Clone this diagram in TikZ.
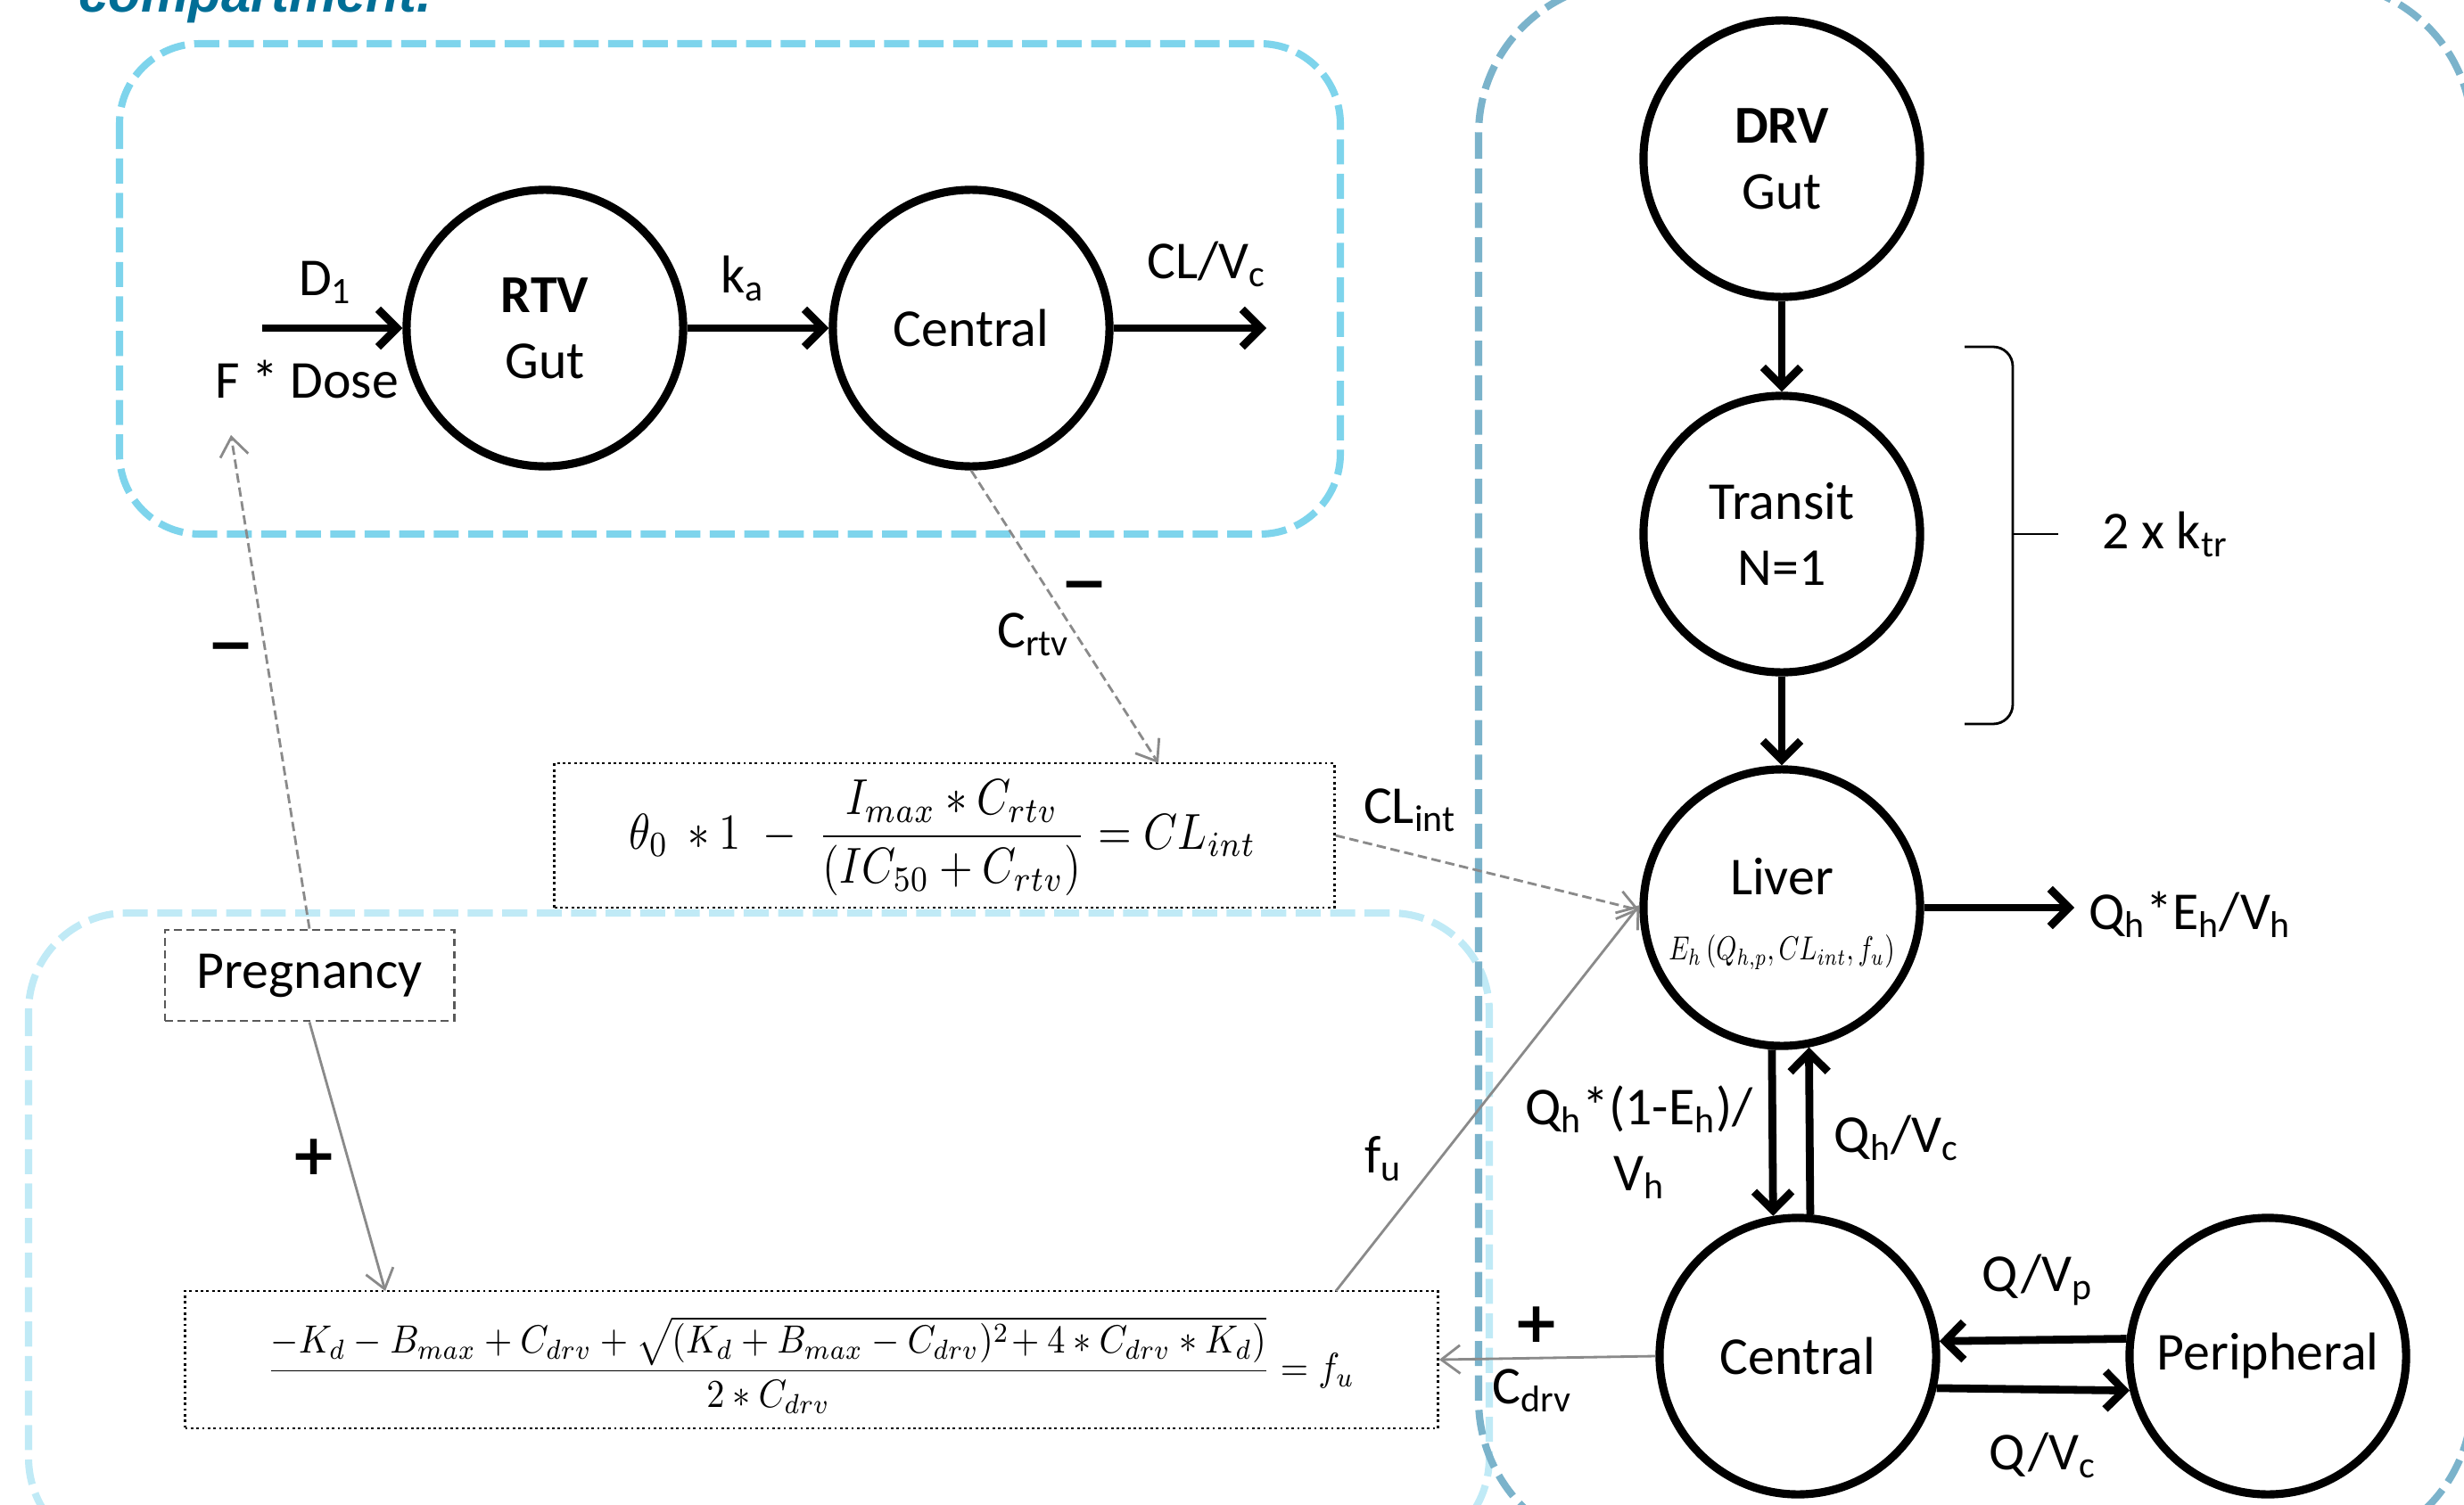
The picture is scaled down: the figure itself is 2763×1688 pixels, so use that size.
\documentclass[tikz,border=0pt]{standalone}
\usepackage{fontspec}
\usepackage{amsmath}
\usepackage{graphicx}
\setmainfont{Carlito}
\newfontfamily\symfont{DejaVu Sans}
\newfontfamily\headfont{Liberation Sans}
\usetikzlibrary{arrows.meta,calc}
\definecolor{grpA}{HTML}{7ED4EC}
\definecolor{grpB}{HTML}{C0EAF6}
\definecolor{grpC}{HTML}{7BB3CB}
\definecolor{conn}{HTML}{8A8A8A}
\definecolor{capcol}{HTML}{006E96}
\begin{document}
\begin{tikzpicture}[x=0.01cm,y=-0.01cm,
  comp/.style={circle,draw=black,fill=white,line width=2.6pt,minimum size=3.1cm,inner sep=0pt,align=center,font=\fontsize{17}{21}\selectfont},
  lbl/.style={inner sep=0pt,font=\fontsize{17}{21}\selectfont,align=center},
  flow/.style={line width=2.5pt,-{Straight Barb[length=6pt,width=12pt]}},
  infl/.style={draw=conn,line width=0.8pt,-{Straight Barb[length=6pt,width=9pt]}},
  fdash/.style={dash pattern=on 3pt off 1.5pt},
  eqbox/.style={draw=black,densely dotted,line width=0.8pt,inner sep=0pt,fill=white},
  grp/.style={line width=2.3pt,dash pattern=on 8pt off 3pt},
  sign/.style={inner sep=0pt,font=\symfont\bfseries\fontsize{18}{18}\selectfont},
  brk/.style={line width=0.8pt,draw=black}
]
\useasboundingbox (0,0) rectangle (2763,1688);
\begin{scope}
\clip (0,0) rectangle (2763,1688);
% caption fragment
\node[anchor=base west,inner sep=0pt,text=capcol,font=\headfont\bfseries\itshape\fontsize{17}{17}\selectfont] (cap) at (88,14) {compartment.};
% group boxes
\draw[grp,draw=grpB,rounded corners=1.1cm] (32,1024) rectangle (1670,1745);
\draw[grp,draw=grpA,rounded corners=0.9cm] (134,49) rectangle (1503,599);
\draw[grp,draw=grpC,rounded corners=1.7cm] (1658,-20) rectangle (2772,1740);

% compartments
\node[comp] (rgut) at (611,368) {\textbf{RTV}\\Gut};
\node[comp] (rcen) at (1089,368) {Central};
\node[comp] (dgut) at (1998,178) {\textbf{DRV}\\Gut};
\node[comp] (trans) at (1998,599) {Transit\\N=1};
\node[comp] (liver) at (1998,1018) {};
\node[lbl] (livtxt) at (1998,983) {Liver};
\node[inner sep=0pt] (livfor) at (1998,1068) {\resizebox*{72pt}{11pt}{$E_h\,(Q_{h,p},CL_{int},f_u)$}};
\node[comp] (dcen) at (2016,1521) {Central};
\node[comp] (peri) at (2543,1521) {Peripheral};

% equation boxes
\node[eqbox,minimum width=8.74cm,minimum height=1.62cm] (clbox) at (1059,937) {};
\node[inner sep=0pt] (cleq) at (1057,940) {\resizebox*{200pt}{37pt}{$\displaystyle \theta_0\ \ast 1\;-\;\frac{I_{max}\ast C_{rtv}}{(IC_{50}+C_{rtv})}=CL_{int}$}};
\node[eqbox,minimum width=14.04cm,minimum height=1.54cm] (fubox) at (910,1525) {};
\node[inner sep=0pt] (fueq) at (909,1531) {\resizebox*{347pt}{31pt}{$\displaystyle \frac{-K_d-B_{max}+C_{drv}+\sqrt{(K_d+B_{max}-C_{drv})^2\!+4\ast C_{drv}\ast K_d)}}{2\ast C_{drv}}=f_u$}};
\node[draw=black!65,line width=0.8pt,dash pattern=on 2.5pt off 1.5pt,fill=white,minimum width=3.24cm,minimum height=1.02cm,inner sep=0pt,font=\fontsize{17}{21}\selectfont] (preg) at (347,1094) {Pregnancy};

% labels
\node[lbl] (d1) at (365,317) {D\textsubscript{1}};
\node[lbl] (fdose) at (344,425) {F * Dose};
\node[lbl] (ka) at (833,312) {k\textsubscript{a}};
\node[lbl] (clvc) at (1353,296) {CL/V\textsubscript{c}};
\node[lbl] (crtv) at (1159,712) {C\textsubscript{rtv}};
\node[lbl] (clint) at (1581,909) {CL\textsubscript{int}};
\node[lbl] (fu) at (1551,1300) {f\textsubscript{u}};
\node[lbl] (cdrv) at (1718,1560) {C\textsubscript{drv}};
\node[lbl] (ktr) at (2428,599) {2 x k\textsubscript{tr}};
\node[lbl] (qeh) at (2456,1026) {Q\textsubscript{h}*E\textsubscript{h}/V\textsubscript{h}};
\node[lbl] (qdown) at (1838,1281) {Q\textsubscript{h}*(1-E\textsubscript{h})/\\V\textsubscript{h}};
\node[lbl] (qup) at (2127,1276) {Q\textsubscript{h}/V\textsubscript{c}};
\node[lbl] (qvp) at (2285,1436) {Q/V\textsubscript{p}};
\node[lbl] (qvc) at (2291,1632) {Q/V\textsubscript{c}};
\node[sign] (m1) at (1216,664) {−};
\node[sign] (m2) at (259,733) {−};
\node[sign] (p1) at (352,1298) {+};
\node[sign] (p2) at (1723,1486) {+};

% thick flows
\coordinate (din) at (294,368);
\coordinate (clout) at (1420,368);
\coordinate (qout) at (2326,1018);
\draw[flow] (din) -- (rgut.west);
\draw[flow] (rgut.east) -- (rcen.west);
\draw[flow] (rcen.east) -- (clout);
\draw[flow] (dgut.south) -- (trans.north);
\draw[flow] (trans.south) -- (liver.north);
\draw[flow] (liver.east) -- (qout);
\draw[flow] (liver.-94.3) -- (dcen.100.9);
\draw[flow] (dcen.85.7) -- (liver.-79.1);
\draw[flow] (peri.173.5) -- (dcen.6.5);
\draw[flow] (dcen.-13.5) -- (peri.-166.5);

% bracket
\draw[brk] (2203,389) -- (2235,389) to[out=0,in=90] (2257,411) -- (2257,790) to[out=-90,in=0] (2235,812) -- (2203,812);
\draw[brk] (2257,599) -- (2308,599);

% influence connectors
\coordinate (fdtip) at (259,488);
\coordinate (futop) at (432,1448);
\coordinate (cltop) at (1299,856);
\coordinate (fuout) at (1498,1448);
\draw[infl,fdash] (preg.north) -- (fdtip);
\draw[infl] (preg.south) -- (futop);
\draw[infl,fdash] (rcen.south) -- (cltop);
\draw[infl,fdash] (clbox.east) -- (liver.181);
\draw[infl] (fuout) -- (liver.179);
\draw[infl] (dcen.west) -- (fubox.east);
\end{scope}
\end{tikzpicture}
\end{document}
